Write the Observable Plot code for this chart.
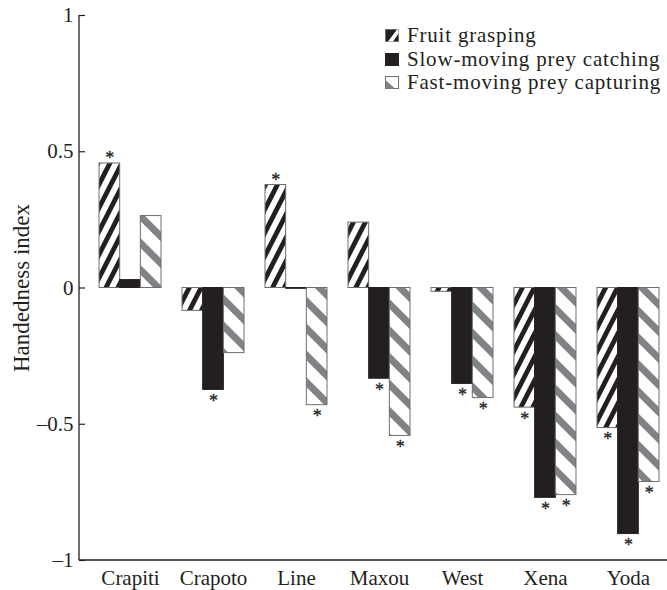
<!DOCTYPE html>
<html><head><meta charset="utf-8">
<script src="https://cdn.jsdelivr.net/npm/d3@7"></script>
<script src="https://cdn.jsdelivr.net/npm/@observablehq/plot@0.6"></script>
<style>
body{margin:0;background:#fff;}
#wrap{position:relative;width:667px;height:590px;font-family:"Liberation Serif",serif;}
#legend{position:absolute;left:385px;top:24px;font-size:21px;letter-spacing:0.8px;color:#231f20;line-height:23.5px;}
.row{display:flex;align-items:center;height:23.5px;white-space:nowrap;}
.row svg{margin-right:8px;flex:none;}
</style></head><body><div id="wrap"><div id="legend"></div></div>
<script>
const animals = ["Crapiti","Crapoto","Line","Maxou","West","Xena","Yoda"];
const tasks = ["Fruit grasping","Slow-moving prey catching","Fast-moving prey capturing"];
const fruit = [0.457,-0.084,0.378,0.240,-0.014,-0.439,-0.514];
const slow  = [0.029,-0.374,-0.003,-0.333,-0.352,-0.770,-0.903];
const fast  = [0.264,-0.239,-0.430,-0.543,-0.404,-0.760,-0.712];
const sigFruit = [1,0,1,0,0,1,1];
const sigSlow  = [0,1,0,1,1,1,1];
const sigFast  = [0,0,1,1,1,1,1];
const yTicks = [-1,-0.5,0,0.5,1];

const ink = "#231f20";
const W = 667, H = 590, mL = 79, mR = 0, mT = 15, mB = 30;
const n = animals.length, pi = 0.253, po = 0.169, al = 0.714;
const step = (W - mL - mR) / (n - pi + 2 * po);
const bw = step * (1 - pi);

const series = [fruit, slow, fast];
const sigs = [sigFruit, sigSlow, sigFast];
const data = [];
animals.forEach((a, i) => series.forEach((s, j) =>
  data.push({animal: a, task: tasks[j], j, value: s[i], sig: sigs[j][i]})));

const fills = ["url(#pFruit)", ink, "url(#pFast)"];
const strokes = ["#6d6e71", ink, "#6d6e71"];

const marks = [];
marks.push(() => {
  const g = d3.create("svg:defs");
  const p1 = g.append("pattern").attr("id", "pFruit").attr("patternUnits", "userSpaceOnUse")
    .attr("width", 10.6).attr("height", 10.6).attr("patternTransform", "rotate(27)");
  p1.append("rect").attr("width", 10.6).attr("height", 10.6).attr("fill", "#fff");
  p1.append("rect").attr("width", 4.8).attr("height", 10.6).attr("fill", ink);
  const p2 = g.append("pattern").attr("id", "pFast").attr("patternUnits", "userSpaceOnUse")
    .attr("width", 19).attr("height", 19).attr("patternTransform", "rotate(-45)");
  p2.append("rect").attr("width", 19).attr("height", 19).attr("fill", "#fff");
  p2.append("rect").attr("width", 7).attr("height", 19).attr("fill", "#808285");
  return g.node();
});
for (let j = 0; j < 3; j++) {
  marks.push(Plot.barY(data.filter(d => d.j === j), {
    x: "animal", y: "value", fill: fills[j], stroke: strokes[j], strokeWidth: 1,
    insetLeft: j * bw / 3, insetRight: (2 - j) * bw / 3
  }));
  const dx = (j - 1) * bw / 3;
  marks.push(Plot.text(data.filter(d => d.j === j && d.sig && d.value > 0), {
    x: "animal", y: "value", text: () => "*", dx, dy: -5, fontSize: 18, fill: ink,
    opacity: 0.999, stroke: ink, strokeWidth: 0.3
  }));
  marks.push(Plot.text(data.filter(d => d.j === j && d.sig && d.value < 0), {
    x: "animal", y: "value", text: () => "*", dx, dy: 11.5, fontSize: 18, fill: ink,
    opacity: 0.999, stroke: ink, strokeWidth: 0.3
  }));
}
// axis lines
marks.push((index, scales, values, dims) => {
  const g = d3.create("svg:g").attr("stroke", ink).attr("stroke-width", 1.3).attr("fill", "none");
  const x0 = dims.marginLeft, x1 = dims.width - dims.marginRight;
  g.append("line").attr("x1", x0).attr("x2", x0).attr("y1", scales.y(1)).attr("y2", scales.y(-1));
  g.append("line").attr("x1", x0).attr("x2", x1).attr("y1", scales.y(-1)).attr("y2", scales.y(-1));
  return g.node();
});
marks.push(Plot.ruleY(yTicks, {stroke: ink, strokeWidth: 1.2, insetRight: W - mL - mR - 6}));
marks.push(Plot.axisY({ticks: yTicks, tickSize: 0, tickPadding: 6, fontSize: 21, label: null,
  tickFormat: d => d < 0 ? "\u2013" + (-d) : String(d)}));
marks.push(Plot.axisX({tickSize: 0, tickPadding: 10, fontSize: 21, label: null}));
marks.push(Plot.text(["Handedness index"], {text: d => d, frameAnchor: "left", textAnchor: "middle",
  rotate: -90, dx: -58, fontSize: 23, fill: ink}));

const chart = Plot.plot({
  width: W, height: H, marginLeft: mL, marginRight: mR, marginTop: mT, marginBottom: mB,
  style: {fontFamily: "Liberation Serif", color: ink, background: "white"},
  x: {domain: animals, paddingInner: pi, paddingOuter: po, align: al, round: false, label: null, axis: null},
  y: {domain: [-1, 1], label: null, axis: null},
  marks
});
const wrap = document.getElementById("wrap");
wrap.insertBefore(chart, wrap.firstChild);

// legend
const legend = d3.select("#legend");
const sw = [
  s => { s.append("rect").attr("x",0.5).attr("y",0.5).attr("width",13).attr("height",12).attr("fill",ink).attr("stroke","#6d6e71");
         s.append("polygon").attr("points","3,12.5 8,12.5 13.5,4.5 13.5,0.5 12,0.5").attr("fill","#fff"); },
  s => { s.append("rect").attr("x",0.5).attr("y",0.5).attr("width",13).attr("height",12).attr("fill",ink).attr("stroke",ink); },
  s => { s.append("rect").attr("x",0.5).attr("y",0.5).attr("width",13).attr("height",12).attr("fill","#fff").attr("stroke","#6d6e71");
         s.append("polygon").attr("points","0.5,4 0.5,12.5 10,12.5").attr("fill","#808285"); }
];
tasks.forEach((t, j) => {
  const row = legend.append("div").attr("class", "row");
  const s = row.append("svg").attr("width", 14).attr("height", 13);
  sw[j](s);
  row.append("span").text(t);
});
</script></body></html>
